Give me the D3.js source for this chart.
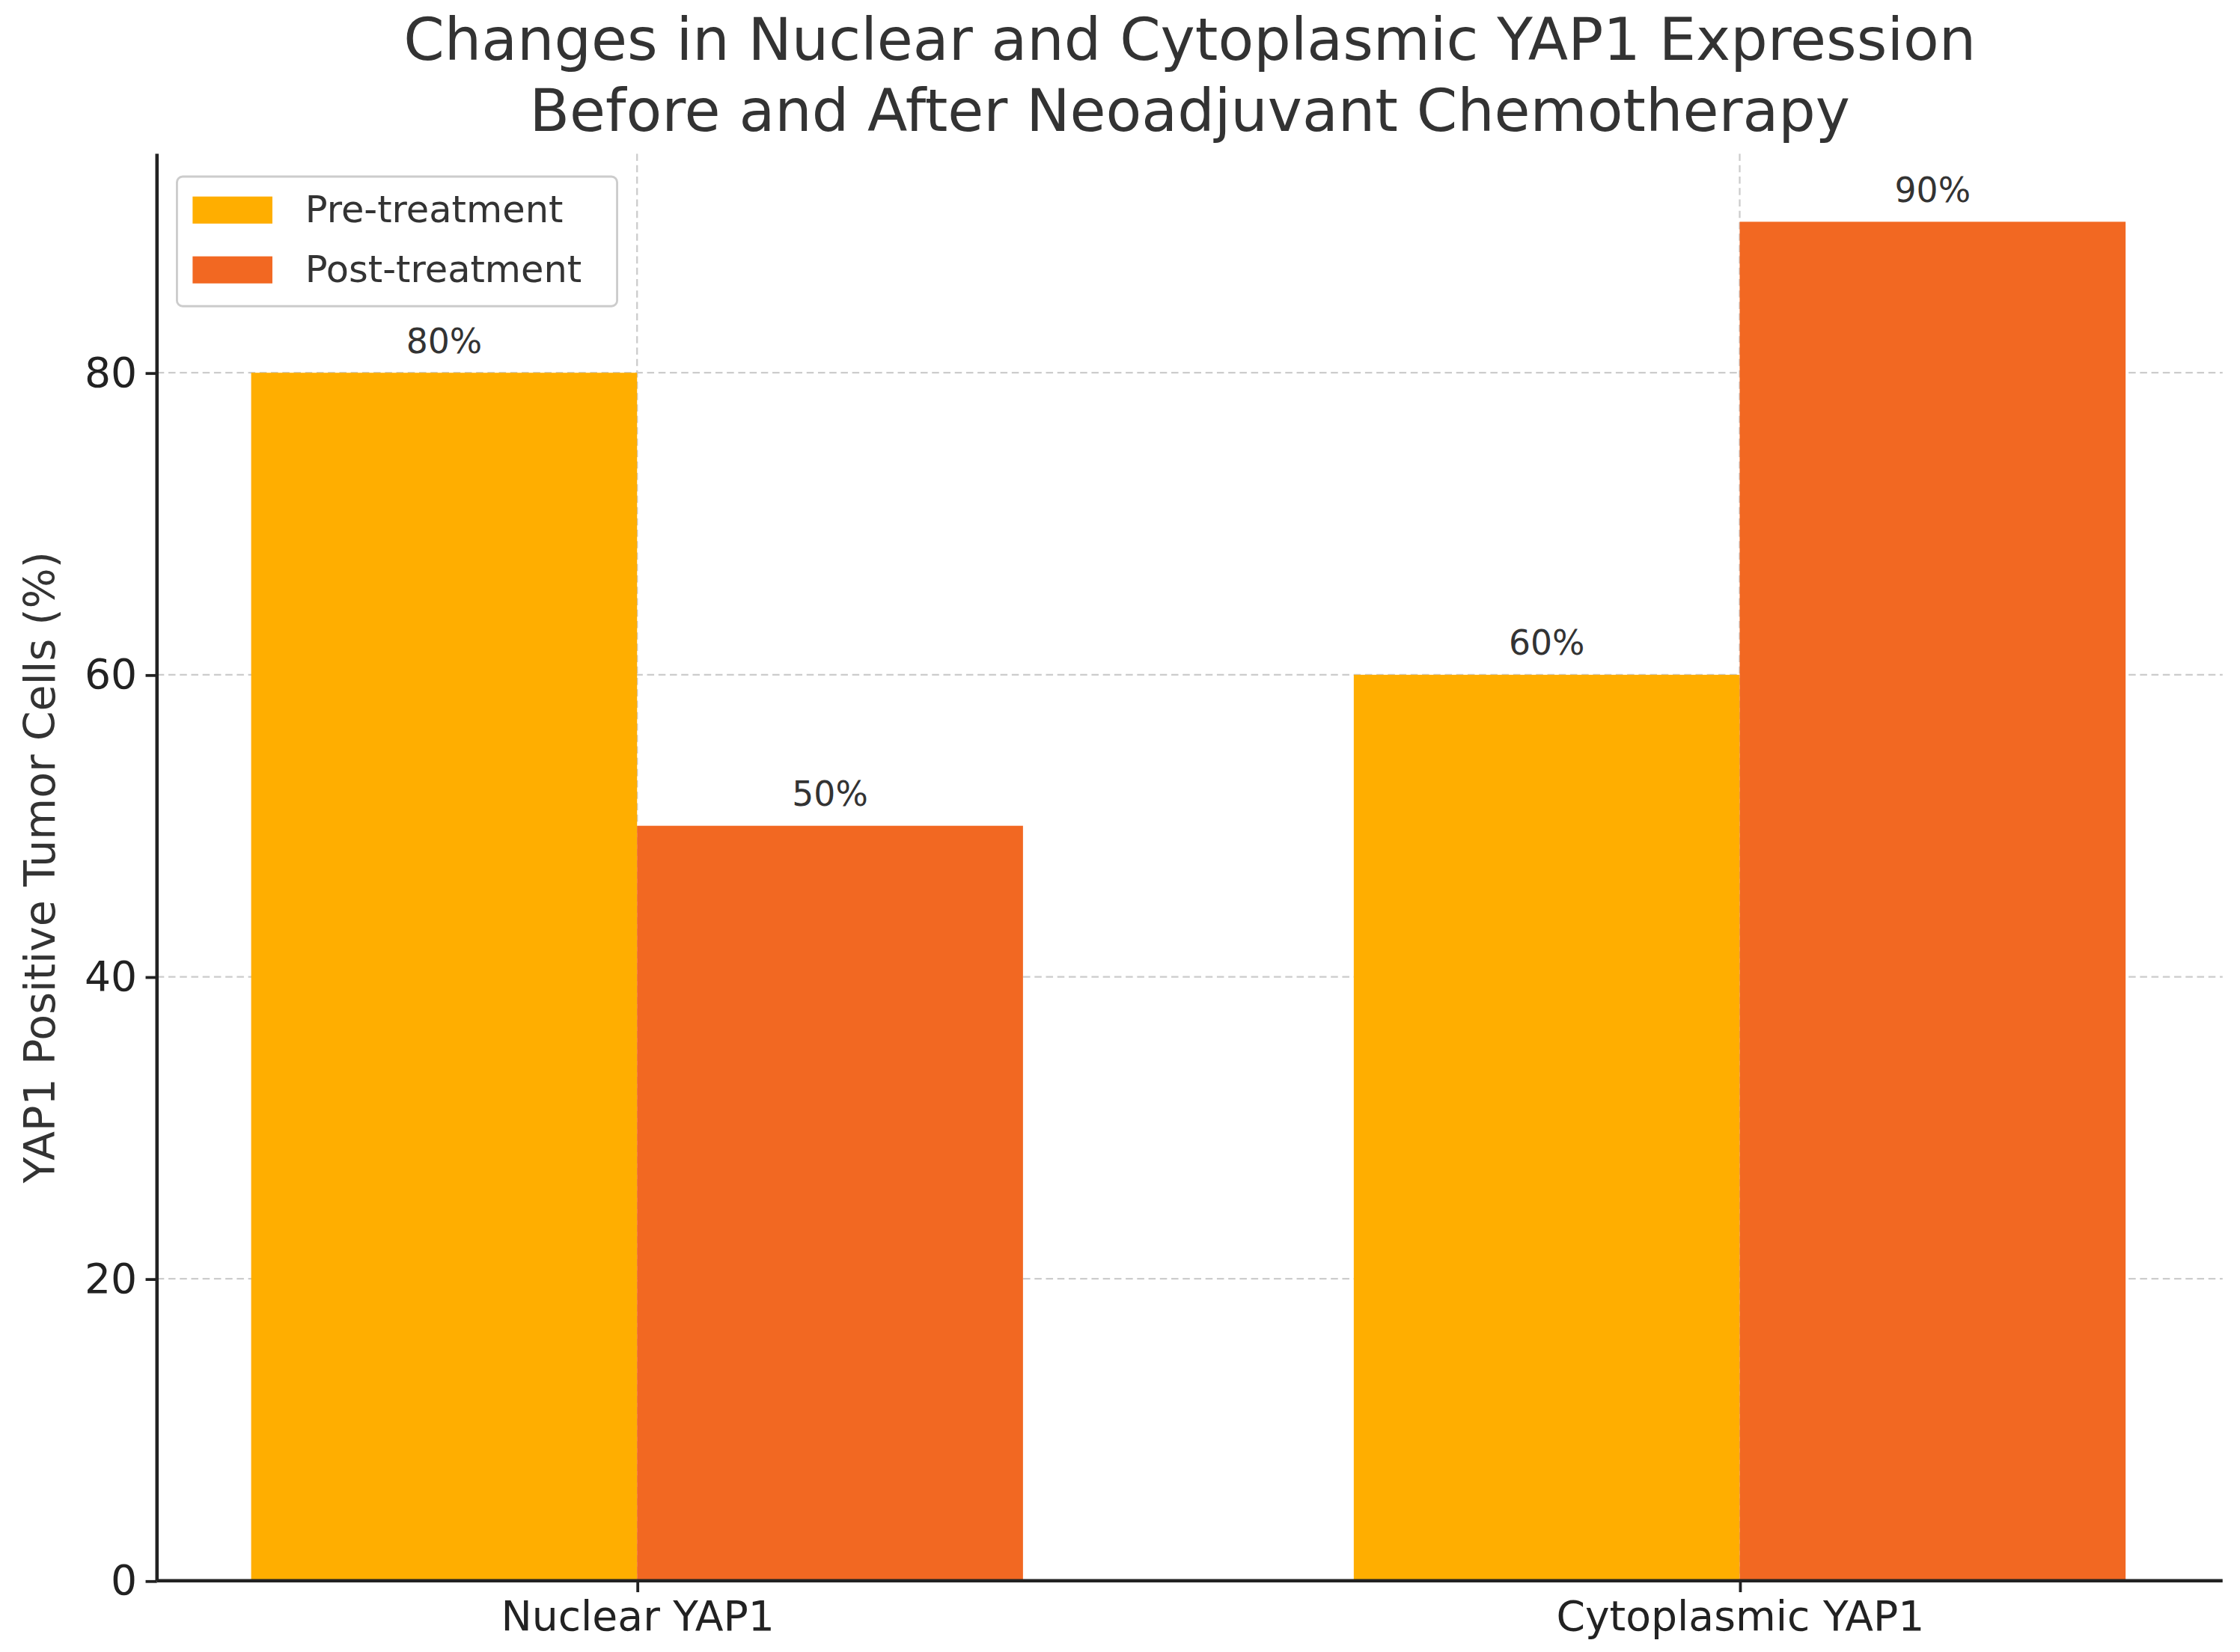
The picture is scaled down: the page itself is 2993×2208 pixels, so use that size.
<!DOCTYPE html>
<html><head><meta charset="utf-8">
<script src="https://cdn.jsdelivr.net/npm/d3@7"></script>
<style>body{margin:0;background:#fff}svg{display:block}</style>
</head><body>
<script>
// data
const categories = ["Nuclear YAP1", "Cytoplasmic YAP1"];
const series = ["Pre-treatment", "Post-treatment"];
const preValues = [80, 60];
const postValues = [50, 90];
const yTicks = [0, 20, 40, 60, 80];
const colors = ["#FFAE00", "#F26822"];

const W = 1568, H = 1160;
const svg = d3.select("body").append("svg")
    .attr("width", 2993).attr("height", 2208)
    .attr("viewBox", `0 0 ${W} ${H}`)
    .style("font-family", "DejaVu Sans, sans-serif");

const mLeft = 108, mRight = 1558, mTop = 108, mBottom = 1110;
const x = d3.scaleLinear().domain([0, 1]).range([445, 1219]);
const barW = 0.35;
const y = d3.scaleLinear().domain([0, 94.5]).range([mBottom, mTop]);

// grid
const grid = svg.append("g");
grid.selectAll(".gy").data(yTicks.slice(1)).join("line")
    .attr("x1", mLeft).attr("x2", mRight).attr("y1", d => y(d)).attr("y2", d => y(d))
    .attr("stroke", "#ccc").attr("stroke-dasharray", "5,3").attr("stroke-width", 1.2);
grid.selectAll(".gx").data([0, 1]).join("line")
    .attr("x1", d => x(d)).attr("x2", d => x(d)).attr("y1", mTop).attr("y2", mBottom)
    .attr("stroke", "#ccc").attr("stroke-dasharray", "5,3").attr("stroke-width", 1.2);

// bars
const all = [preValues, postValues];
all.forEach((vals, si) => {
    const off = si === 0 ? -barW : 0;
    svg.append("g").selectAll("rect").data(vals).join("rect")
        .attr("x", (d, i) => x(i + off)).attr("width", x(barW) - x(0))
        .attr("y", d => y(d)).attr("height", d => y(0) - y(d))
        .attr("fill", colors[si]);
    svg.append("g").selectAll("text").data(vals).join("text")
        .attr("x", (d, i) => x(i + off + barW / 2)).attr("y", d => y(d) - 14)
        .attr("text-anchor", "middle").attr("font-size", 24).attr("fill", "#333")
        .text(d => d + "%");
});

// axes
const yAxis = svg.append("g").attr("transform", `translate(${mLeft},0)`)
    .call(d3.axisLeft(y).tickValues(yTicks).tickSize(8).tickPadding(6));
const xAxis = svg.append("g").attr("transform", `translate(0,${mBottom})`)
    .call(d3.axisBottom(x).tickValues([0, 1]).tickFormat(i => categories[i]).tickSize(8).tickPadding(6));
[yAxis, xAxis].forEach(a => {
    a.selectAll("path").remove();
    a.selectAll("line").attr("stroke", "#222").attr("stroke-width", 2);
    a.selectAll("text").attr("font-size", 29).attr("fill", "#222").style("font-family", "DejaVu Sans, sans-serif");
});
svg.append("line").attr("x1", mLeft).attr("x2", mLeft).attr("y1", mTop).attr("y2", mBottom).attr("stroke", "#222").attr("stroke-width", 2.4);
svg.append("line").attr("x1", mLeft).attr("x2", mRight).attr("y1", mBottom).attr("y2", mBottom).attr("stroke", "#222").attr("stroke-width", 2.4);

// y label
svg.append("text").attr("transform", `translate(36,${(mTop + mBottom) / 2}) rotate(-90)`)
    .attr("text-anchor", "middle").attr("font-size", 30).attr("fill", "#333")
    .text("YAP1 Positive Tumor Cells (%)");

// title
svg.append("text").attr("x", 833).attr("y", 42).attr("text-anchor", "middle")
    .attr("font-size", 41).attr("fill", "#333").text("Changes in Nuclear and Cytoplasmic YAP1 Expression");
svg.append("text").attr("x", 833).attr("y", 92).attr("text-anchor", "middle")
    .attr("font-size", 41).attr("fill", "#333").text("Before and After Neoadjuvant Chemotherapy");

// legend
const lg = svg.append("g").attr("transform", "translate(122,124)");
lg.append("rect").attr("width", 309).attr("height", 91).attr("rx", 4)
    .attr("fill", "#fff").attr("fill-opacity", 0.8).attr("stroke", "#ccc").attr("stroke-width", 1.5);
series.forEach((s, i) => {
    lg.append("rect").attr("x", 11).attr("y", 14 + i * 42).attr("width", 56).attr("height", 19).attr("fill", colors[i]);
    lg.append("text").attr("x", 90).attr("y", 32 + i * 42).attr("font-size", 26).attr("fill", "#333").text(s);
});
</script>
</body></html>
